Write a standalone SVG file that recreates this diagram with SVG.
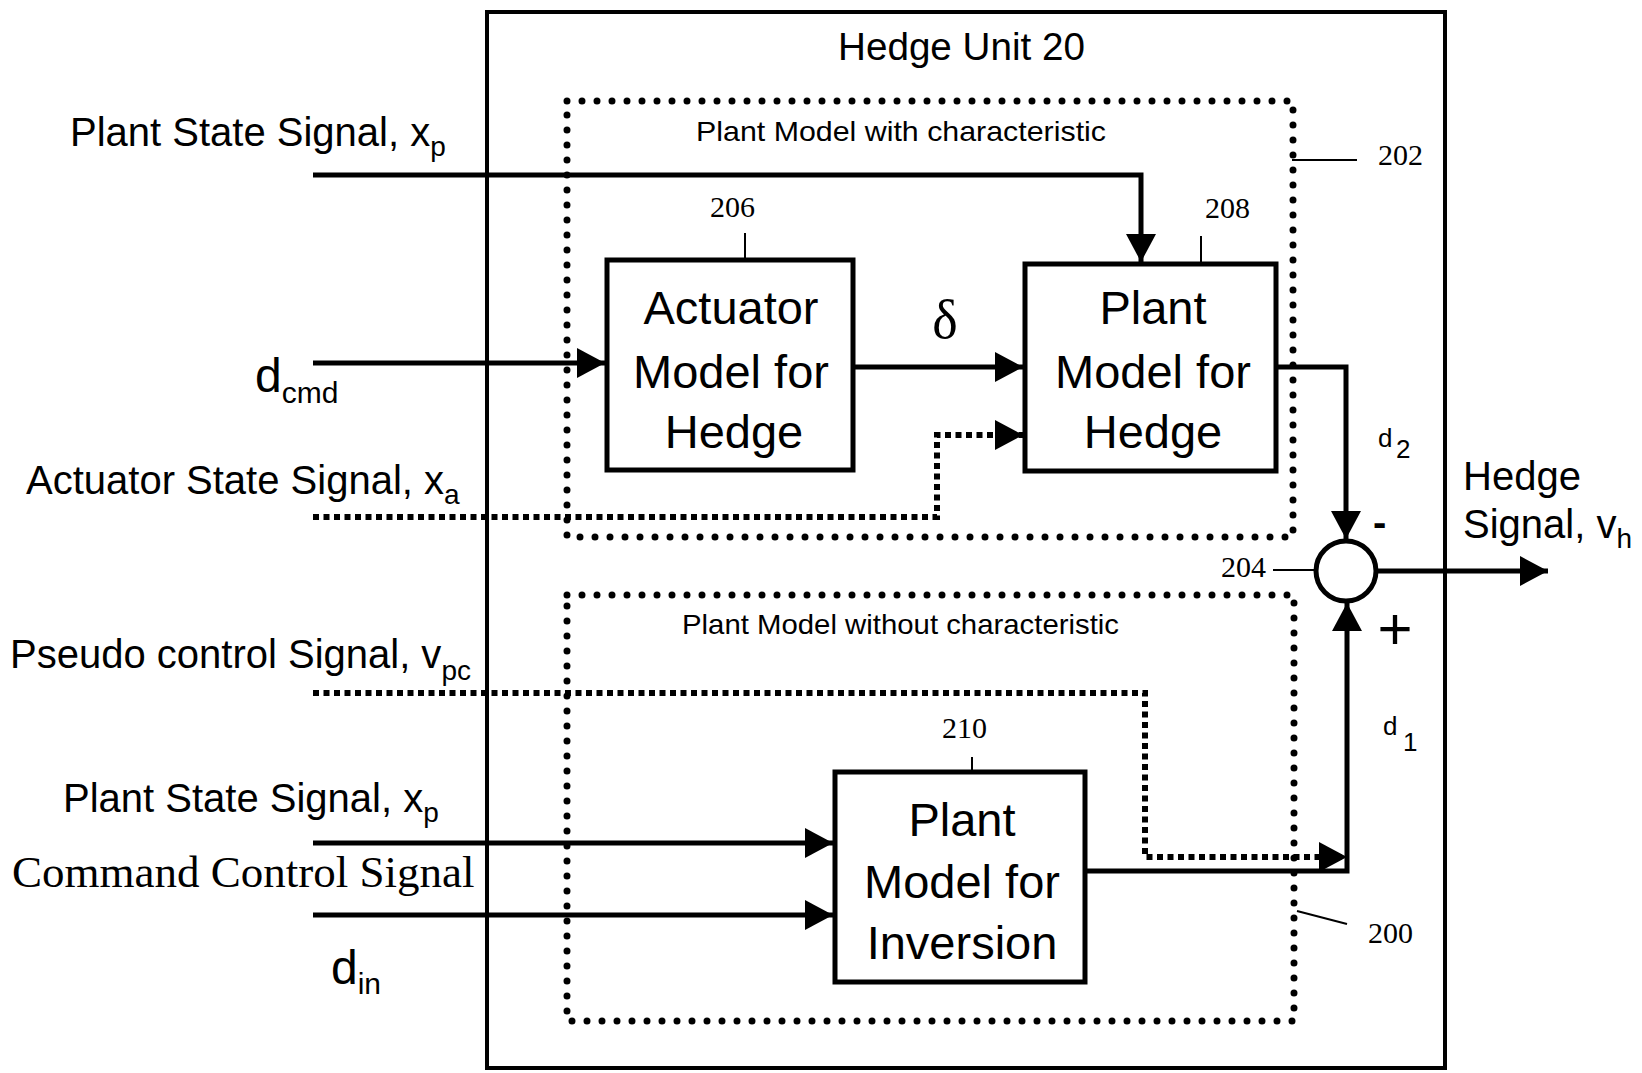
<svg xmlns="http://www.w3.org/2000/svg" width="1642" height="1073" viewBox="0 0 1642 1073">
<defs>
<marker id="arr" viewBox="0 0 28 30" refX="28" refY="15" markerWidth="28" markerHeight="30" markerUnits="userSpaceOnUse" orient="auto"><path d="M0,0 L28,15 L0,30 z" fill="#000"/></marker>
</defs>
<style>
.box{fill:none;stroke:#000;stroke-width:5}
.outer{fill:none;stroke:#000;stroke-width:4}
.dotbox{fill:none;stroke:#000;stroke-width:7;stroke-linecap:round;stroke-dasharray:0 15}
.sig{fill:none;stroke:#000;stroke-width:5}
.dsig{fill:none;stroke:#000;stroke-width:6;stroke-dasharray:6 4.5}
.lead{fill:none;stroke:#000;stroke-width:2}
.sans{font-family:"Liberation Sans",Arial,sans-serif;fill:#000}
.serif{font-family:"Liberation Serif","Times New Roman",serif;fill:#000}
.lbl{font-size:40px}
.bt{font-size:47px;text-anchor:middle}
.num{font-size:30px}
</style>
<rect fill="#fff" width="1642" height="1073"/>

<g id="hedge-unit-20">
<rect class="outer" x="487" y="12" width="958" height="1056"/>
<text class="sans" x="838" y="60" font-size="38" textLength="247" lengthAdjust="spacingAndGlyphs">Hedge Unit 20</text>
</g>

<g id="plant-model-with-202">
<rect class="dotbox" x="567" y="101" width="726" height="436"/>
<text class="sans" x="696" y="141" font-size="28" textLength="410" lengthAdjust="spacingAndGlyphs">Plant Model with characteristic</text>
<path class="lead" d="M1292,160 H1357"/>
<text class="serif num" x="1378" y="165">202</text>
</g>

<g id="plant-model-without-200">
<rect class="dotbox" x="567" y="595" width="727" height="426"/>
<text class="sans" x="682" y="634" font-size="28" textLength="437" lengthAdjust="spacingAndGlyphs">Plant Model without characteristic</text>
<path class="lead" d="M1297,911 L1347,924"/>
<text class="serif num" x="1368" y="943">200</text>
</g>

<g id="actuator-model-206">
<rect class="box" x="607" y="260" width="246" height="210"/>
<text class="sans bt" x="731" y="324">Actuator</text>
<text class="sans bt" x="731" y="388">Model for</text>
<text class="sans bt" x="734" y="448">Hedge</text>
<path class="lead" d="M745,233 V258"/>
<text class="serif num" x="710" y="217">206</text>
</g>

<g id="plant-model-hedge-208">
<rect class="box" x="1025" y="264" width="251" height="207"/>
<text class="sans bt" x="1153" y="324">Plant</text>
<text class="sans bt" x="1153" y="388">Model for</text>
<text class="sans bt" x="1153" y="448">Hedge</text>
<path class="lead" d="M1201,236 V262"/>
<text class="serif num" x="1205" y="218">208</text>
</g>

<g id="plant-model-inversion-210">
<rect class="box" x="835" y="772" width="250" height="210"/>
<text class="sans bt" x="962" y="836">Plant</text>
<text class="sans bt" x="962" y="898">Model for</text>
<text class="sans bt" x="962" y="959">Inversion</text>
<path class="lead" d="M972,757 V770"/>
<text class="serif num" x="942" y="738">210</text>
</g>

<g id="summer-204">
<circle cx="1346" cy="571" r="30" fill="none" stroke="#000" stroke-width="5"/>
<path class="lead" d="M1273,570 H1315"/>
<text class="serif num" x="1221" y="577">204</text>
<text class="sans" x="1373" y="536" font-size="40" font-weight="bold">-</text>
<text class="sans" x="1395" y="649" font-size="60" text-anchor="middle">+</text>
</g>

<g id="connectors">
<path class="sig" d="M313,175 H1141 V262" marker-end="url(#arr)"/>
<path class="sig" d="M313,363 H605" marker-end="url(#arr)"/>
<path class="dsig" d="M313,517 H937 V435 H1023" marker-end="url(#arr)"/>
<path class="sig" d="M853,367 H1023" marker-end="url(#arr)"/>
<path class="sig" d="M1276,367 H1346 V539" marker-end="url(#arr)"/>
<path class="dsig" d="M313,693 H1145 V857 H1347" marker-end="url(#arr)"/>
<path class="sig" d="M313,843 H833" marker-end="url(#arr)"/>
<path class="sig" d="M313,915 H833" marker-end="url(#arr)"/>
<path class="sig" d="M1085,871 H1347 V603" marker-end="url(#arr)"/>
<path class="sig" d="M1376,571 H1548" marker-end="url(#arr)"/>
</g>

<g id="signal-labels">
<text class="sans lbl" x="70" y="146">Plant State Signal, x<tspan font-size="28" dy="10">p</tspan></text>
<text class="sans" x="255" y="392" font-size="48">d<tspan font-size="30" dy="11">cmd</tspan></text>
<text class="sans lbl" x="26" y="494">Actuator State Signal, x<tspan font-size="28" dy="10">a</tspan></text>
<text class="serif" x="945" y="338" font-size="54" text-anchor="middle">δ</text>
<text class="sans" x="1378" y="447" font-size="26">d<tspan x="1396" dy="11">2</tspan></text>
<text class="sans lbl" x="1463" y="490">Hedge</text>
<text class="sans lbl" x="1463" y="538">Signal, v<tspan font-size="28" dy="10">h</tspan></text>
<text class="sans" x="1383" y="735" font-size="26">d<tspan x="1403" dy="16">1</tspan></text>
<text class="sans lbl" x="10" y="668">Pseudo control Signal, v<tspan font-size="28" dy="12">pc</tspan></text>
<text class="sans lbl" x="63" y="812">Plant State Signal, x<tspan font-size="28" dy="10">p</tspan></text>
<text class="serif" x="12" y="887" font-size="45">Command Control Signal</text>
<text class="sans" x="331" y="984" font-size="48">d<tspan font-size="30" dy="10">in</tspan></text>
</g>
</svg>
